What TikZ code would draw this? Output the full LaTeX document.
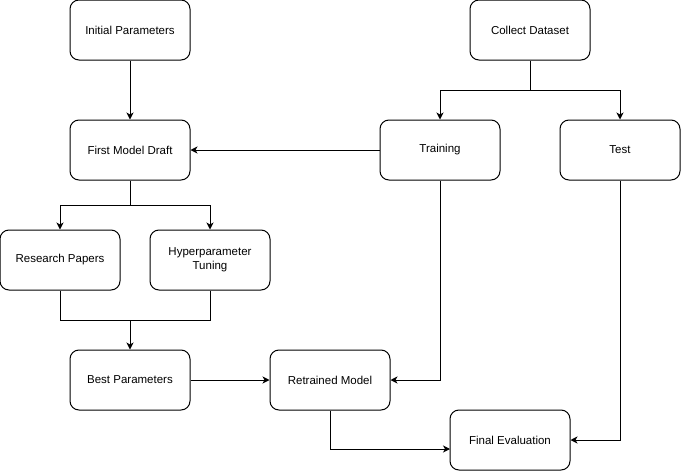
\documentclass[tikz,border=0pt]{standalone}
\usepackage{fontspec}
\setmainfont{Liberation Sans}
\usetikzlibrary{arrows.meta}

\begin{document}
\begin{tikzpicture}[x=1pt, y=-1pt, line width=1pt,
  stepbox/.style={draw, rounded corners=9pt, minimum width=120pt, minimum height=60pt, align=center, font=\fontsize{11.5}{14}\selectfont, inner sep=2pt},
  arr/.style={-{Stealth[length=7pt, width=7pt, inset=2pt]}}]
\useasboundingbox (0,0) rectangle (681,471);
\node[stepbox] (init) at (130,30){Initial Parameters};
\node[stepbox] (data) at (530,30){Collect Dataset};
\node[stepbox] (draft) at (130,150){First Model Draft};
\node[stepbox] (train) at (440,150){Training};
\node[stepbox] (test) at (620,150){Test};
\node[stepbox] (papers) at (60,260){Research Papers};
\node[stepbox] (tuning) at (210,260){Hyperparameter\\Tuning};
\node[stepbox] (best) at (130,380){Best Parameters};
\node[stepbox] (retrain) at (330,380){Retrained Model};
\node[stepbox] (final) at (510,440){Final Evaluation};
\coordinate (dsplit) at (530,90);
\coordinate (fsplit) at (130,205);
\coordinate (merge) at (130,320);
\coordinate (finalin) at (450,449);
\draw[arr](init) -- (draft);
\draw[](data) -- (dsplit);
\draw[arr](dsplit) -| (train);
\draw[arr](dsplit) -| (test);
\draw[arr](train) -- (draft);
\draw[](draft) -- (fsplit);
\draw[arr](fsplit) -| (papers);
\draw[arr](fsplit) -| (tuning);
\draw[](papers) |- (merge);
\draw[](tuning) |- (merge);
\draw[arr](merge) -- (best);
\draw[arr](best) -- (retrain);
\draw[arr](train) |- (retrain);
\draw[arr](retrain) |- (finalin);
\draw[arr](test) |- (final);

\end{tikzpicture}
\end{document}
